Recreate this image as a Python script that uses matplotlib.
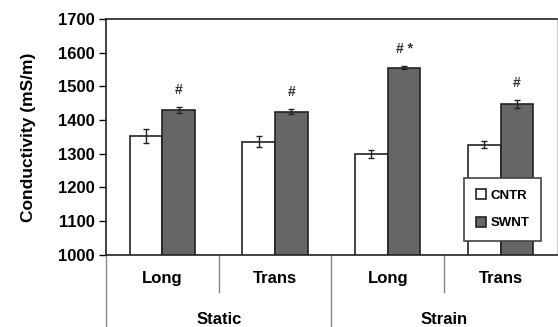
import matplotlib.pyplot as plt
import numpy as np

plt.rcParams['font.family'] = ['Liberation Sans', 'DejaVu Sans']
plt.rcParams['font.weight'] = 'bold'

orient = ['Long', 'Trans', 'Long', 'Trans']
condition = ['Static', 'Strain']
cntr = [1353, 1336, 1300, 1327]
cntr_err = [20, 17, 12, 10]
swnt = [1430, 1425, 1555, 1447]
swnt_err = [8, 7, 4, 11]
marks = ['#', '#', '# *', '#']

fig = plt.figure(figsize=(5.58, 3.27), dpi=100)
ax = fig.add_axes([0.19, 0.221, 0.808, 0.721])

x = np.arange(len(orient))
w = 0.29
ax.bar(x - w / 2, cntr, w, yerr=cntr_err, color='white', edgecolor='#222222',
       linewidth=1.2, capsize=2.5, error_kw=dict(elinewidth=1, ecolor='#222222'),
       label='CNTR', zorder=2)
ax.bar(x + w / 2, swnt, w, yerr=swnt_err, color='#666666', edgecolor='#222222',
       linewidth=1.2, capsize=2.5, error_kw=dict(elinewidth=1, ecolor='#222222'),
       label='SWNT', zorder=2)

for i in range(len(orient)):
    ax.text(x[i] + w / 2, swnt[i] + swnt_err[i] + 30, marks[i], ha='center',
            va='bottom', fontsize=10, fontweight='bold', color='#333333')

ax.set_ylim(1000, 1700)
ax.set_xlim(-0.5, 3.5)
ax.set_yticks(range(1000, 1701, 100))
ax.tick_params(axis='y', labelsize=12, length=5, width=1, direction='out', pad=3)
ax.set_ylabel('Conductivity (mS/m)', fontsize=12.5, fontweight='bold', labelpad=16)

ax.set_xticks(x)
ax.set_xticklabels(orient, fontsize=12)
ax.tick_params(axis='x', length=0, pad=12)

for s in ['left', 'bottom', 'top']:
    ax.spines[s].set_color('#222222')
    ax.spines[s].set_linewidth(1.2)
ax.spines['right'].set_color('#cccccc')

# category separators below the axis
trans = ax.get_xaxis_transform()
for xs in [0.5, 2.5]:
    ax.plot([xs, xs], [0, -0.16], transform=trans, color='#888888', lw=1, clip_on=False)
for xs in [-0.5, 1.5]:
    ax.plot([xs, xs], [0, -0.32], transform=trans, color='#888888', lw=1, clip_on=False)
for j, c in enumerate(condition):
    ax.text(0.5 + 2 * j, -0.275, c, transform=trans, ha='center', va='center',
            fontsize=12, fontweight='bold')

leg = ax.legend(loc='lower right', bbox_to_anchor=(0.965, 0.058), fontsize=9.5,
                frameon=True, fancybox=False, framealpha=1, handlelength=0.8,
                handleheight=0.8, handletextpad=0.3, labelspacing=1.1,
                borderpad=0.9, borderaxespad=0)
leg.get_frame().set_edgecolor('#444444')
leg.get_frame().set_linewidth(1.2)

fig.savefig('out.png', dpi=100)
